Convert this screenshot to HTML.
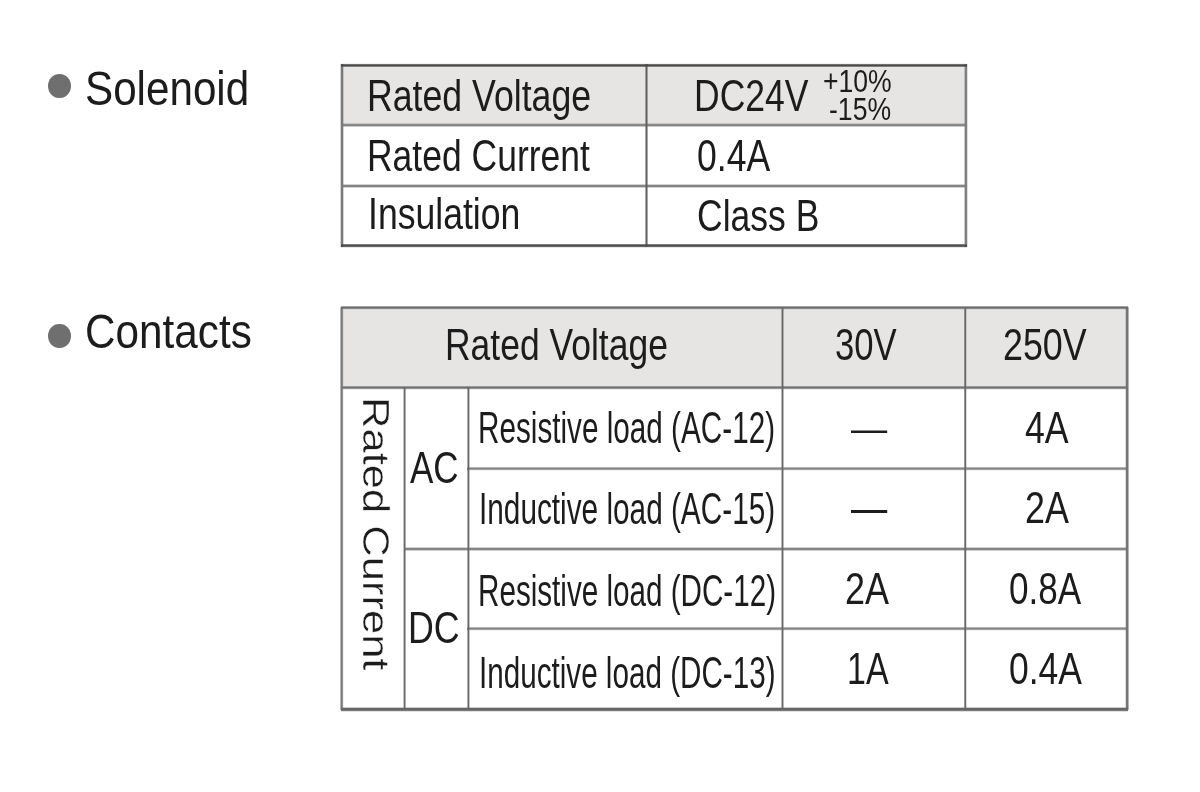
<!DOCTYPE html>
<html lang="en">
<head>
<meta charset="utf-8">
<title>Solenoid and Contacts ratings</title>
<style>
html,body{margin:0;padding:0;background:#fff;}
body{width:1200px;height:792px;position:relative;overflow:hidden;font-family:"Liberation Sans",Arial,Helvetica,sans-serif;color:#1c1c1c;}
#page{position:absolute;left:0;top:0;width:1200px;height:792px;background:#fff;}
.t{position:absolute;white-space:nowrap;line-height:1;transform-origin:0 0;display:block;margin:0;padding:0;font-weight:normal;}
.ln{position:absolute;}
.frame{position:absolute;left:0;top:0;width:1200px;height:792px;}
.txt{position:absolute;left:0;top:0;width:1200px;height:792px;}
.hd{position:absolute;left:0;top:0;width:300px;height:792px;}
.bg{position:absolute;background:#e6e5e4;}
.bul{position:absolute;background:#6f6f6f;border-radius:50%;}
.v{-webkit-text-stroke:0.4px #fff;position:absolute;white-space:nowrap;line-height:1;transform-origin:0 0;display:block;}
</style>
</head>
<body>
<div id="page">

<section id="solenoid">
<div class="hd">
<div class="bul" style="left:48.4px;top:74px;width:22.2px;height:24px"></div>
<h2 class="t" style="left:85.43px;top:64px;font-size:48.5px;transform:scaleX(0.8698)">Solenoid</h2>
</div>
<div class="tbl" id="t1">
<div class="bg" style="left:342px;top:65.4px;width:623.9px;height:59.7px"></div>
<div class="frame">
<div class="ln" style="left:341px;top:121px;width:626px;height:8px;background:linear-gradient(to bottom,transparent 2px,#858585 3.6px,#858585 4.6px,transparent 6.2px)"></div>
<div class="ln" style="left:341px;top:182px;width:626px;height:8px;background:linear-gradient(to bottom,transparent 1.9px,#858585 3.5px,#858585 4.5px,transparent 6.1px)"></div>
<div class="ln" style="left:338px;top:64px;width:8px;height:183px;background:linear-gradient(to right,transparent 2.05px,#7a7a7a 3.45px,#7a7a7a 4.55px,transparent 5.95px)"></div>
<div class="ln" style="left:642px;top:64px;width:8px;height:183px;background:linear-gradient(to right,transparent 2.8px,#606060 4.1px,#606060 4.9px,transparent 6.2px)"></div>
<div class="ln" style="left:962px;top:64px;width:8px;height:183px;background:linear-gradient(to right,transparent 1.95px,#7e7e7e 3.35px,#7e7e7e 4.45px,transparent 5.85px)"></div>
<div class="ln" style="left:341px;top:61px;width:626px;height:8px;background:linear-gradient(to bottom,transparent 2.4px,#484848 3.8px,#484848 5px,transparent 6.4px)"></div>
<div class="ln" style="left:341px;top:242px;width:626px;height:8px;background:linear-gradient(to bottom,transparent 1.5px,#4c4c4c 2.9px,#4c4c4c 4.3px,transparent 5.7px)"></div>
</div>
<div class="txt">
<span class="t" style="left:366.51px;top:74px;font-size:44.5px;transform:scaleX(0.8017)">Rated Voltage</span>
<span class="t" style="left:367.23px;top:134px;font-size:44.5px;transform:scaleX(0.7973)">Rated Current</span>
<span class="t" style="left:367.52px;top:192px;font-size:44.5px;transform:scaleX(0.7994)">Insulation</span>
<span class="t" style="left:693.73px;top:74px;font-size:44.5px;transform:scaleX(0.7975)">DC24V</span>
<span class="t" style="left:822.55px;top:66px;font-size:30.5px;transform:scaleX(0.8717)">+10%</span>
<span class="t" style="left:829.17px;top:94px;font-size:30.5px;transform:scaleX(0.8725)">-15%</span>
<span class="t" style="left:696.69px;top:134px;font-size:44.5px;transform:scaleX(0.7989)">0.4A</span>
<span class="t" style="left:696.74px;top:194px;font-size:44.5px;transform:scaleX(0.7981)">Class B</span>
</div>
</div>
</section>
<section id="contacts">
<div class="hd">
<div class="bul" style="left:48.4px;top:324px;width:22.2px;height:23.8px"></div>
<h2 class="t" style="left:84.77px;top:307px;font-size:48.5px;transform:scaleX(0.8715)">Contacts</h2>
</div>
<div class="tbl" id="t2">
<div class="bg" style="left:341.7px;top:307.6px;width:785.5px;height:80px"></div>
<div class="frame">
<div class="ln" style="left:341px;top:384px;width:787px;height:8px;background:linear-gradient(to bottom,transparent 1.5px,#707070 3.1px,#707070 4.1px,transparent 5.7px)"></div>
<div class="ln" style="left:467px;top:465px;width:661px;height:8px;background:linear-gradient(to bottom,transparent 1.5px,#858585 3.1px,#858585 4.1px,transparent 5.7px)"></div>
<div class="ln" style="left:404px;top:545px;width:724px;height:8px;background:linear-gradient(to bottom,transparent 1.9px,#858585 3.5px,#858585 4.5px,transparent 6.1px)"></div>
<div class="ln" style="left:467px;top:625px;width:661px;height:8px;background:linear-gradient(to bottom,transparent 1.5px,#858585 3.1px,#858585 4.1px,transparent 5.7px)"></div>
<div class="ln" style="left:401px;top:387px;width:8px;height:323px;background:linear-gradient(to right,transparent 2px,#686868 3.3px,#686868 3.9px,transparent 5.2px)"></div>
<div class="ln" style="left:464px;top:387px;width:8px;height:323px;background:linear-gradient(to right,transparent 2.8px,#686868 4.1px,#686868 4.7px,transparent 6px)"></div>
<div class="ln" style="left:778px;top:307px;width:8px;height:403px;background:linear-gradient(to right,transparent 2.9px,#686868 4.2px,#686868 4.8px,transparent 6.1px)"></div>
<div class="ln" style="left:961px;top:307px;width:8px;height:403px;background:linear-gradient(to right,transparent 2.6px,#686868 3.9px,#686868 4.5px,transparent 5.8px)"></div>
<div class="ln" style="left:338px;top:307px;width:8px;height:403px;background:linear-gradient(to right,transparent 1.75px,#7a7a7a 3.15px,#7a7a7a 4.25px,transparent 5.65px)"></div>
<div class="ln" style="left:1123px;top:307px;width:8px;height:403px;background:linear-gradient(to right,transparent 2.15px,#747474 3.55px,#747474 4.85px,transparent 6.25px)"></div>
<div class="ln" style="left:341px;top:304px;width:787px;height:8px;background:linear-gradient(to bottom,transparent 1.5px,#6c6c6c 3.1px,#6c6c6c 4.1px,transparent 5.7px)"></div>
<div class="ln" style="left:341px;top:705px;width:787px;height:8px;background:linear-gradient(to bottom,transparent 2px,#666666 3.5px,#666666 5.3px,transparent 6.8px)"></div>
</div>
<div class="txt">
<span class="t" style="left:444.73px;top:323px;font-size:44.5px;transform:scaleX(0.7973)">Rated Voltage</span>
<span class="t" style="left:834.92px;top:323px;font-size:44.5px;transform:scaleX(0.7794)">30V</span>
<span class="t" style="left:1002.92px;top:323px;font-size:44.5px;transform:scaleX(0.8054)">250V</span>
<span class="t" style="left:409.8px;top:446px;font-size:44.5px;transform:scaleX(0.7864)">AC</span>
<span class="t" style="left:407.51px;top:606px;font-size:44.5px;transform:scaleX(0.8033)">DC</span>
<span class="t" style="left:478.48px;top:406px;font-size:44.5px;transform:scaleX(0.6673)">Resistive load (AC-12)</span>
<span class="t" style="left:478.97px;top:487px;font-size:44.5px;transform:scaleX(0.6689)">Inductive load (AC-15)</span>
<span class="t" style="left:478.49px;top:569px;font-size:44.5px;transform:scaleX(0.6659)">Resistive load (DC-12)</span>
<span class="t" style="left:478.98px;top:651px;font-size:44.5px;transform:scaleX(0.6661)">Inductive load (DC-13)</span>
<span class="t" style="left:1025.24px;top:406px;font-size:44.5px;transform:scaleX(0.8026)">4A</span>
<span class="t" style="left:1025.12px;top:486px;font-size:44.5px;transform:scaleX(0.8067)">2A</span>
<span class="t" style="left:844.61px;top:567px;font-size:44.5px;transform:scaleX(0.8086)">2A</span>
<span class="t" style="left:1008.9px;top:567px;font-size:44.5px;transform:scaleX(0.7890)">0.8A</span>
<span class="t" style="left:846.68px;top:647px;font-size:44.5px;transform:scaleX(0.7635)">1A</span>
<span class="t" style="left:1008.89px;top:647px;font-size:44.5px;transform:scaleX(0.7967)">0.4A</span>
<span class="t" style="left:851.1px;top:409.59px;font-size:38.4px;transform:scaleX(0.9427)">—</span>
<span class="t" style="left:851.1px;top:487.37px;font-size:43.52px;transform:scaleX(0.8318)">—</span>
<span class="v" style="left:394.1px;top:396.9px;font-size:37.2px;transform:rotate(90deg) scaleX(1.1708)">Rated Current</span>
</div>
</div>
</section>
</div>
</body>
</html>
